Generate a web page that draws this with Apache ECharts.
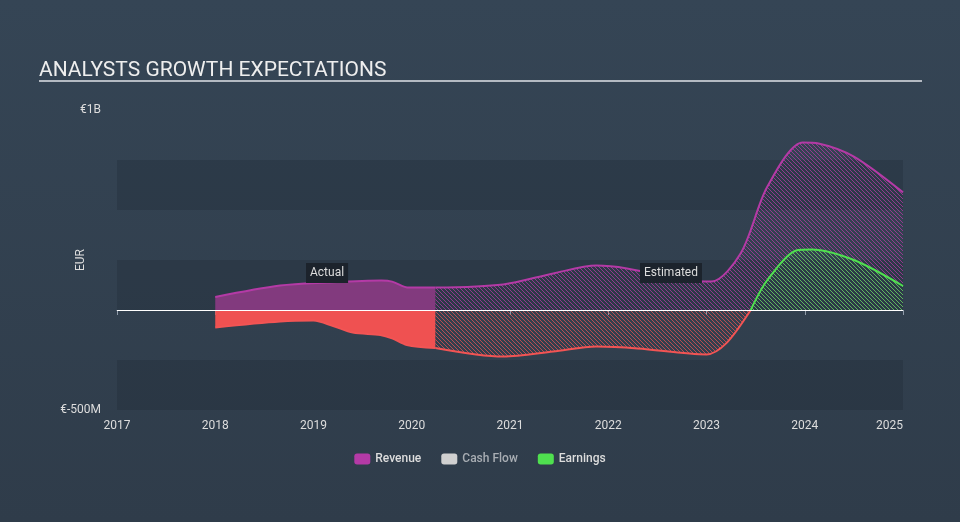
<!DOCTYPE html>
<html>
<head>
<meta charset="utf-8">
<script src="https://cdn.jsdelivr.net/npm/echarts@6/dist/echarts.min.js"></script>
<style>
  html, body { margin: 0; padding: 0; background: #333f4e; }
  #chart { width: 960px; height: 522px; }
</style>
</head>
<body>
<div id="chart"></div>
<script>
// values in EUR millions, x = fractional year
var years = [2017, 2018, 2019, 2020, 2021, 2022, 2023, 2024, 2025];
var yTicks = [-500, 1000];

var revenueActual = [
  [2018, 65], [2018.66, 122], [2019.14, 137], [2019.69, 147],
  [2019.8, 142], [2019.97, 112], [2020.24, 112]
];
var revenueEstimated = [
  [2020.24, 112], [2020.93, 128], [2021.44, 183], [2021.88, 222],
  [2022.19, 208], [2022.8, 150], [2023.05, 142], [2023.35, 285],
  [2023.62, 617], [2023.98, 838], [2024.14, 833], [2024.5, 767], [2025, 588]
];
var earningsActual = [
  [2018, -87], [2018.66, -58], [2019.0, -53], [2019.2, -80],
  [2019.4, -113], [2019.68, -125], [2019.8, -142], [2019.95, -175], [2020.24, -190]
];
var earningsEstimatedNeg = [
  [2020.24, -190], [2020.93, -233], [2021.44, -208], [2021.88, -183],
  [2022.3, -192], [2023.0, -222], [2023.2, -167], [2023.45, 0]
];
var earningsEstimatedPos = [
  [2023.45, 0], [2023.62, 150], [2023.93, 300], [2024.07, 303],
  [2024.5, 250], [2025, 120]
];
var cashFlow = [];

var purple = "#b43aa6";
var red = "#f25454";
var green = "#4fe04f";

function hatch(color) {
  var s = 4;
  var c = document.createElement("canvas");
  c.width = s;
  c.height = s;
  var ctx = c.getContext("2d");
  ctx.strokeStyle = color;
  ctx.lineWidth = 1;
  ctx.beginPath();
  ctx.moveTo(0, 0); ctx.lineTo(s, s);
  ctx.moveTo(-1, s - 1); ctx.lineTo(1, s + 1);
  ctx.moveTo(s - 1, -1); ctx.lineTo(s + 1, 1);
  ctx.stroke();
  return { image: c, repeat: "repeat" };
}

function area(name, data, color, fill) {
  return {
    name: name,
    type: "line",
    data: data,
    smooth: 0.3,
    symbol: "none",
    color: color,
    lineStyle: { color: color, width: 2 },
    areaStyle: { color: fill, opacity: 1, origin: 0 },
    z: 3,
  };
}

var myChart = echarts.init(document.getElementById("chart"));

var option = {
  backgroundColor: {
    type: "linear", x: 0, y: 0, x2: 0, y2: 1,
    colorStops: [
      { offset: 0, color: "#354555" },
      { offset: 1, color: "#2f3c4a" },
    ],
  },
  animation: false,
  textStyle: { fontFamily: "Roboto" },
  title: {
    text: "ANALYSTS GROWTH EXPECTATIONS",
    left: 34,
    top: 55,
    textStyle: { color: "#eeeeee", fontSize: 21, fontWeight: "normal", fontFamily: "Roboto" },
  },
  graphic: [
    {
      type: "line",
      shape: { x1: 39, y1: 81, x2: 922, y2: 81 },
      style: { stroke: "#b4bac2", lineWidth: 2 },
    },
    {
      type: "text",
      left: 306,
      top: 263,
      style: {
        text: "Actual",
        fill: "#dddddd",
        font: "12px Roboto",
        backgroundColor: "#1c232c",
        padding: [4, 4],
      },
      z: 10,
    },
    {
      type: "text",
      left: 640,
      top: 263,
      style: {
        text: "Estimated",
        fill: "#dddddd",
        font: "12px Roboto",
        backgroundColor: "#1c232c",
        padding: [4, 4],
      },
      z: 10,
    },
  ],
  legend: {
    bottom: 52,
    left: "center",
    itemWidth: 16,
    itemHeight: 11,
    itemGap: 20,
    icon: "roundRect",
    textStyle: { color: "#dddddd", fontSize: 12, fontWeight: 500 },
    data: [
      { name: "Revenue", itemStyle: { color: purple } },
      { name: "Cash Flow", itemStyle: { color: "#d0d0d0" }, textStyle: { color: "#a8adb3" } },
      { name: "Earnings", itemStyle: { color: green } },
    ],
  },
  grid: { left: 117, right: 57, top: 110, bottom: 112 },
  xAxis: {
    type: "value",
    min: years[0],
    max: years[years.length - 1],
    interval: 1,
    splitLine: { show: false },
    axisLine: { lineStyle: { color: "#8e9aa8", width: 1 } },
    axisTick: { show: true, length: 5, lineStyle: { color: "#8e9aa8" } },
    axisLabel: {
      color: "#dddddd",
      fontSize: 12,
      margin: 10,
      alignMaxLabel: "right",
      formatter: function (v) { return years.indexOf(v) >= 0 ? String(v) : ""; },
    },
  },
  yAxis: {
    type: "value",
    min: yTicks[0],
    max: yTicks[1],
    interval: 250,
    name: "EUR",
    nameLocation: "middle",
    nameGap: 30,
    nameMoveOverlap: false,
    nameTextStyle: { color: "#dddddd", fontSize: 12 },
    axisLine: { show: false },
    axisTick: { show: false },
    splitLine: { show: false },
    splitArea: { show: true, areaStyle: { color: ["rgba(30,40,52,0.28)", "rgba(0,0,0,0)"] } },
    axisLabel: {
      color: "#dddddd",
      fontSize: 12,
      margin: 16,
      formatter: function (v) {
        if (v === yTicks[1]) return "€1B";
        if (v === yTicks[0]) return "€-500M";
        return "";
      },
    },
  },
  series: [
    area("Revenue", revenueActual, purple, "rgba(135,58,130,0.95)"),
    area("Revenue", revenueEstimated, purple, hatch("rgba(180,58,166,0.75)")),
    area("Earnings", earningsActual, red, "#ef5151"),
    area("Earnings", earningsEstimatedNeg, red, hatch("rgba(242,84,84,0.7)")),
    area("Earnings", earningsEstimatedPos, green, hatch("rgba(79,224,79,0.75)")),
    {
      name: "Cash Flow",
      type: "line",
      data: cashFlow,
      color: "#d0d0d0",
      symbol: "none",
    },
    {
      name: "zero",
      type: "line",
      data: [],
      silent: true,
      markLine: {
        silent: true,
        symbol: "none",
        label: { show: false },
        lineStyle: { color: "#ffffff", width: 1, type: "solid" },
        data: [{ yAxis: 0 }],
      },
      z: 5,
    },
  ],
};

myChart.setOption(option, true);
window.addEventListener("resize", function () {
  myChart.resize();
});
</script>
</body>
</html>
